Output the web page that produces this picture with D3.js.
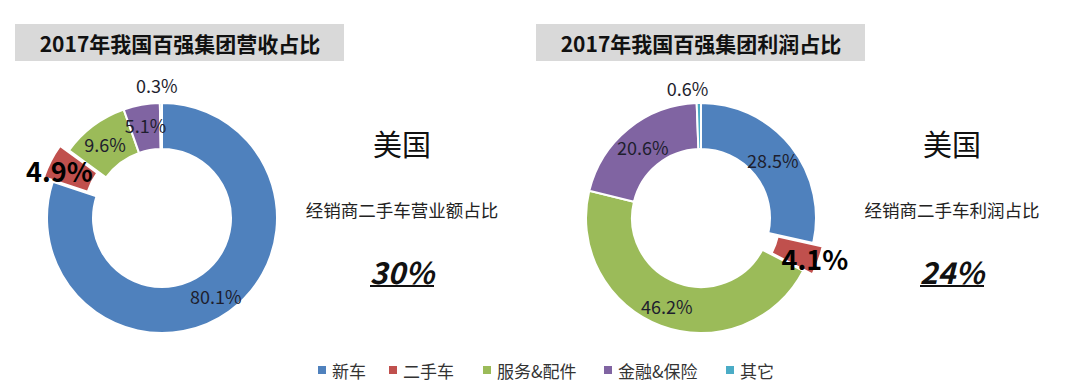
<!DOCTYPE html>
<html>
<head>
<meta charset="utf-8">
<script src="https://d3js.org/d3.v7.min.js"></script>
<style>
  body { margin: 0; background: #fff; font-family: "Noto Sans CJK SC", "Noto Sans", sans-serif; }
  svg text { font-family: "Noto Sans CJK SC", "Noto Sans", sans-serif; }
</style>
</head>
<body>
<svg id="chart" width="1080" height="391"></svg>
<script>
// categories and values
var categories = ["新车", "二手车", "服务&配件", "金融&保险", "其它"];
var revenueShare = [80.1, 4.9, 9.6, 5.1, 0.3];
var profitShare = [28.5, 4.1, 46.2, 20.6, 0.6];
var colors = ["#4f81bd", "#c0504d", "#9bbb59", "#8064a2", "#4bacc6"];

var charts = [
  { title: "2017年我国百强集团营收占比", titleX: 180, values: revenueShare, cx: 162, cy: 218,
    note: "经销商二手车营业额占比", big: "30%", sideX: 402,
    // label radius and nudge per slice
    labels: [{r: 92, dx: 0, dy: 3}, {r: 112, dx: -3, dy: 4}, {r: 92, dx: -2, dy: 0}, {r: 92, dx: 0, dy: -2}, {r: 133, dx: -4, dy: 0}] },
  { title: "2017年我国百强集团利润占比", titleX: 701, values: profitShare, cx: 701, cy: 218,
    note: "经销商二手车利润占比", big: "24%", sideX: 952,
    labels: [{r: 92, dx: 0, dy: 0}, {r: 119, dx: 2, dy: 0}, {r: 92, dx: -2, dy: 2}, {r: 92, dx: 0, dy: 0}, {r: 130, dx: -11, dy: 0}] }
];

var svg = d3.select("#chart");
var outerR = 115, innerR = 69, explode = 10;

var pie = d3.pie().sort(null).value(function(d) { return d; });
var arc = d3.arc().innerRadius(innerR).outerRadius(outerR);

charts.forEach(function(c) {
  // title box
  svg.append("rect")
    .attr("x", c.titleX - 165).attr("y", 24)
    .attr("width", 329).attr("height", 37)
    .attr("fill", "#d9d9d9");
  svg.append("text")
    .attr("x", c.titleX).attr("y", 43)
    .attr("text-anchor", "middle").attr("dominant-baseline", "central")
    .attr("font-size", 21).attr("font-weight", "bold").attr("fill", "#111")
    .text(c.title);

  var g = svg.append("g").attr("transform", "translate(" + c.cx + "," + c.cy + ")");
  var arcs = pie(c.values);

  g.selectAll("path")
    .data(arcs)
    .enter().append("path")
    .attr("d", arc)
    .attr("fill", function(d, i) { return colors[i]; })
    .attr("stroke", "#fff")
    .attr("stroke-width", 2)
    .attr("transform", function(d, i) {
      if (i !== 1) return null;
      var a = (d.startAngle + d.endAngle) / 2;
      return "translate(" + (Math.sin(a) * explode) + "," + (-Math.cos(a) * explode) + ")";
    });

  g.selectAll("text.lbl")
    .data(arcs)
    .enter().append("text")
    .attr("class", "lbl")
    .attr("x", function(d, i) { var a = (d.startAngle + d.endAngle) / 2; return Math.sin(a) * c.labels[i].r + c.labels[i].dx; })
    .attr("y", function(d, i) { var a = (d.startAngle + d.endAngle) / 2; return -Math.cos(a) * c.labels[i].r + c.labels[i].dy; })
    .attr("text-anchor", "middle").attr("dominant-baseline", "central")
    .attr("font-size", function(d, i) { return i === 1 ? 27 : 18; })
    .attr("font-weight", function(d, i) { return i === 1 ? "bold" : "normal"; })
    .attr("fill", function(d, i) { return i === 1 ? "#000" : "#1e1e2e"; })
    .text(function(d) { return d.data.toFixed(1) + "%"; });

  // side text
  svg.append("text")
    .attr("x", c.sideX).attr("y", 143)
    .attr("text-anchor", "middle").attr("dominant-baseline", "central")
    .attr("font-size", 29).attr("fill", "#111")
    .text("美国");
  svg.append("text")
    .attr("x", c.sideX).attr("y", 209)
    .attr("text-anchor", "middle").attr("dominant-baseline", "central")
    .attr("font-size", 17.5).attr("fill", "#222")
    .text(c.note);
  svg.append("text")
    .attr("x", c.sideX).attr("y", 271)
    .attr("text-anchor", "middle").attr("dominant-baseline", "central")
    .attr("font-size", 30).attr("font-weight", "bold").attr("font-style", "italic")
    .attr("fill", "#111")
    .text(c.big);
  svg.append("line")
    .attr("x1", c.sideX - 32).attr("x2", c.sideX + 32)
    .attr("y1", 286).attr("y2", 286)
    .attr("stroke", "#111").attr("stroke-width", 2);
});

// legend
var legendX = [318, 389, 483, 604, 726];
var legend = svg.append("g");
categories.forEach(function(name, i) {
  legend.append("rect")
    .attr("x", legendX[i]).attr("y", 366)
    .attr("width", 8).attr("height", 8)
    .attr("fill", colors[i]);
  legend.append("text")
    .attr("x", legendX[i] + 14).attr("y", 370)
    .attr("dominant-baseline", "central")
    .attr("font-size", 17).attr("fill", "#333")
    .text(name);
});
</script>
</body>
</html>
